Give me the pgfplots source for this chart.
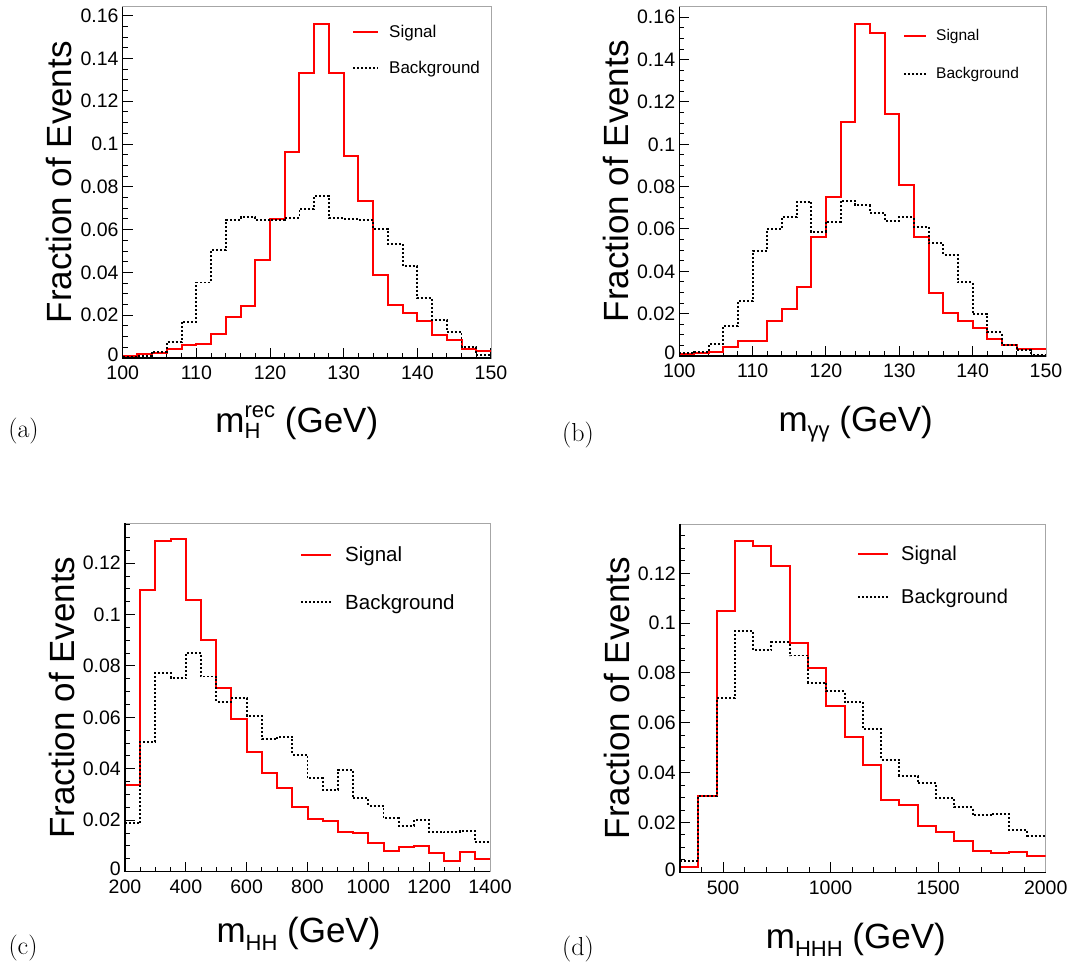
\documentclass[border=0pt]{standalone}
\usepackage{fontspec}
\usepackage{pgfplots}
\pgfplotsset{compat=1.18}
\newfontfamily\arial{Liberation Sans}
\definecolor{rootred}{RGB}{255,0,0}
\newcommand\tfont{\arial\fontsize{19.5}{20}\selectfont}
\newcommand\lfont{\arial\fontsize{35}{40}\selectfont}
\newcommand\lsub[2]{\raisebox{-#1}{\fontsize{22}{22}\selectfont #2}}
\pgfplotsset{
  rootaxis/.style={
    scale only axis,
    axis line style={draw=gray!70, line width=0.8pt},
    tick pos=left,
    tick align=inside,
    major tick length=10pt,
    minor tick length=5pt,
    tick style={black, line width=1pt},
    scaled ticks=false,
    /pgf/number format/assume math mode=true,
    /pgf/number format/set thousands separator={},
    ticklabel style={font=\tfont},
    yticklabel style={/pgf/number format/fixed, inner sep=0pt, xshift=-4pt},
    yticklabel={\ifdim\tick pt=0pt \raisebox{6pt}{0}\else\pgfmathprintnumber{\tick}\fi},
    xticklabel style={inner sep=0pt, yshift=-8pt},
    ylabel={Fraction of Events},
    ylabel style={font=\lfont, at={([xshift=-51pt]axis description cs:0,0.5)}, anchor=base},
    xlabel style={font=\lfont, anchor=base},
    ymin=0,
    after end axis/.code={\draw[black, line width=1.5pt] (rel axis cs:0,1) -- (rel axis cs:0,0) -- (rel axis cs:1,0);},
    legend cell align=left,
    legend style={draw=none, fill=none, anchor=north west, inner sep=0pt, nodes={inner sep=0pt}},
  },
  sig/.style={const plot, draw=rootred, line width=2pt, mark=none},
  bkg/.style={const plot, draw=black, line width=1.9pt, dash pattern=on 2pt off 2pt, mark=none},
}
\begin{document}
\begin{tikzpicture}
\useasboundingbox (0,0) rectangle (1074pt,966pt);
% ---------------- (a)
\begin{axis}[rootaxis, at={(122.7pt,608pt)}, anchor=south west, width=368.3pt, height=351.3pt,
  xmin=100, xmax=150, ymax=0.1642,
  xtick={100,110,120,130,140,150}, minor x tick num=4,
  ytick={0,0.02,0.04,0.06,0.08,0.1,0.12,0.14,0.16}, minor y tick num=3,
  xlabel={m\rlap{\lsub{6pt}{H}}\raisebox{15pt}{\fontsize{22}{22}\selectfont rec} (GeV)},
  xlabel style={at={([xshift=-10pt,yshift=-75pt]axis description cs:0.5,0)}},
  legend style={at={(0.6226,0.9488)}, font=\arial\fontsize{17}{17}\selectfont, row sep=22pt,
    /tikz/every odd column/.append style={column sep=10pt}},
  legend image code/.code={\draw[#1] (0pt,0pt) -- (25pt,0pt);}]
\addplot[sig] coordinates {(100,0.0008) (102,0.002) (104,0.0023) (106,0.004) (108,0.006) (110,0.0067) (112,0.011) (114,0.0193) (116,0.0244) (118,0.0459) (120,0.065) (122,0.0962) (124,0.1334) (126,0.1561) (128,0.1331) (130,0.0946) (132,0.0732) (134,0.0388) (136,0.0247) (138,0.0209) (140,0.0171) (142,0.0109) (144,0.0082) (146,0.0044) (148,0.0031) (150,0.0031)};
\addlegendentry{Signal}
\addplot[bkg] coordinates {(100,0.0005) (102,0.001) (104,0.003) (106,0.0075) (108,0.017) (110,0.0353) (112,0.0503) (114,0.0646) (116,0.0658) (118,0.0643) (120,0.0646) (122,0.0655) (124,0.0697) (126,0.0758) (128,0.0654) (130,0.0649) (132,0.0643) (134,0.0604) (136,0.0532) (138,0.0428) (140,0.0279) (142,0.0176) (144,0.0121) (146,0.005) (148,0.0016) (150,0.0016)};
\addlegendentry{Background}
\end{axis}
% ---------------- (b)
\begin{axis}[rootaxis, at={(679.3pt,610pt)}, anchor=south west, width=366.7pt, height=349.3pt,
  xmin=100, xmax=150, ymax=0.165,
  xtick={100,110,120,130,140,150}, minor x tick num=4,
  ytick={0,0.02,0.04,0.06,0.08,0.1,0.12,0.14,0.16}, minor y tick num=3,
  xlabel={m\lsub{6pt}{γγ} (GeV)},
  xlabel style={at={([xshift=-7pt,yshift=-76pt]axis description cs:0.5,0)}},
  legend style={at={(0.610,0.936)}, font=\arial\fontsize{15.5}{15.5}\selectfont, row sep=25.6pt,
    /tikz/every odd column/.append style={column sep=9pt}},
  legend image code/.code={\draw[#1] (0pt,0pt) -- (22pt,0pt);}]
\addplot[sig] coordinates {(100,0.0009) (102,0.0016) (104,0.002) (106,0.0044) (108,0.0069) (110,0.0072) (112,0.0165) (114,0.022) (116,0.0328) (118,0.0564) (120,0.0753) (122,0.1106) (124,0.1569) (126,0.1526) (128,0.1143) (130,0.0806) (132,0.0562) (134,0.0299) (136,0.0205) (138,0.0167) (140,0.0131) (142,0.008) (144,0.0052) (146,0.0033) (148,0.0031) (150,0.0031)};
\addlegendentry{Signal}
\addplot[bkg] coordinates {(100,0.0013) (102,0.002) (104,0.0057) (106,0.0142) (108,0.0258) (110,0.0498) (112,0.0598) (114,0.0658) (116,0.0729) (118,0.0586) (120,0.0635) (122,0.0734) (124,0.0712) (126,0.0677) (128,0.0638) (130,0.0655) (132,0.0611) (134,0.0532) (136,0.0477) (138,0.0348) (140,0.0198) (142,0.0112) (144,0.0052) (146,0.0028) (148,0.0005) (150,0.0005)};
\addlegendentry{Background}
\end{axis}
% ---------------- (c)
\begin{axis}[rootaxis, at={(125pt,94.3pt)}, anchor=south west, width=365pt, height=348.4pt,
  xmin=200, xmax=1400, ymax=0.1355,
  xtick={200,400,600,800,1000,1200,1400}, minor x tick num=3,
  ytick={0,0.02,0.04,0.06,0.08,0.1,0.12}, minor ytick={0.005,0.01,...,0.135},
  xlabel={m\lsub{8pt}{HH} (GeV)},
  xlabel style={at={([xshift=-9pt,yshift=-71pt]axis description cs:0.5,0)}},
  legend style={at={(0.4795,0.933)}, font=\arial\fontsize{20.5}{20.5}\selectfont, row sep=31pt,
    /tikz/every odd column/.append style={column sep=13pt}},
  legend image code/.code={\draw[#1] (0pt,0pt) -- (30pt,0pt);}]
\addplot[sig] coordinates {(200,0.0337) (250,0.1096) (300,0.1288) (350,0.1293) (400,0.1057) (450,0.0901) (500,0.0713) (550,0.0594) (600,0.0464) (650,0.0383) (700,0.0324) (750,0.025) (800,0.0205) (850,0.0198) (900,0.0156) (950,0.0152) (1000,0.011) (1050,0.008) (1100,0.0095) (1150,0.0100) (1200,0.0071) (1250,0.0043) (1300,0.0078) (1350,0.0048) (1400,0.0048)};
\addlegendentry{Signal}
\addplot[bkg] coordinates {(200,0.0188) (250,0.0506) (300,0.0774) (350,0.0752) (400,0.0852) (450,0.0759) (500,0.0661) (550,0.0674) (600,0.0606) (650,0.0515) (700,0.0525) (750,0.0454) (800,0.0363) (850,0.0318) (900,0.0396) (950,0.0285) (1000,0.0255) (1050,0.0208) (1100,0.0178) (1150,0.0201) (1200,0.0156) (1250,0.0153) (1300,0.0158) (1350,0.0114) (1400,0.0114)};
\addlegendentry{Background}
\end{axis}
% ---------------- (d)
\begin{axis}[rootaxis, at={(680pt,93.7pt)}, anchor=south west, width=365.7pt, height=348.3pt,
  xmin=300, xmax=2000, ymax=0.1398,
  xtick={500,1000,1500,2000}, minor xtick={400,600,700,800,900,1100,1200,1300,1400,1600,1700,1800,1900},
  ytick={0,0.02,0.04,0.06,0.08,0.1,0.12}, minor ytick={0.005,0.01,...,0.135},
  xlabel={m\lsub{8pt}{HHH} (GeV)},
  xlabel style={at={([xshift=-7pt,yshift=-76pt]axis description cs:0.5,0)}},
  legend style={at={(0.484,0.938)}, font=\arial\fontsize{20}{20}\selectfont, row sep=27.4pt,
    /tikz/every odd column/.append style={column sep=12pt}},
  legend image code/.code={\draw[#1] (0pt,0pt) -- (30pt,0pt);}]
\addplot[sig] coordinates {(300,0.0023) (385,0.0306) (470,0.105) (555,0.1331) (640,0.131) (725,0.1231) (810,0.0922) (895,0.082) (980,0.0669) (1065,0.0544) (1150,0.0429) (1235,0.029) (1320,0.0269) (1405,0.0186) (1490,0.0162) (1575,0.0126) (1660,0.0086) (1745,0.0076) (1830,0.0082) (1915,0.0066) (2000,0.0066)};
\addlegendentry{Signal}
\addplot[bkg] coordinates {(300,0.0045) (385,0.0306) (470,0.0698) (555,0.0969) (640,0.0892) (725,0.0923) (810,0.087) (895,0.0761) (980,0.0726) (1065,0.0684) (1150,0.0574) (1235,0.0452) (1320,0.0388) (1405,0.0357) (1490,0.0298) (1575,0.0261) (1660,0.0229) (1745,0.0235) (1830,0.0169) (1915,0.0147) (2000,0.0147)};
\addlegendentry{Background}
\end{axis}
\node[font=\fontsize{26}{30}\selectfont] at (23.5pt,535pt) {(a)};
\node[font=\fontsize{26}{30}\selectfont] at (578pt,531pt) {(b)};
\node[font=\fontsize{26}{30}\selectfont] at (23pt,18pt) {(c)};
\node[font=\fontsize{26}{30}\selectfont] at (578pt,17pt) {(d)};
\end{tikzpicture}
\end{document}
